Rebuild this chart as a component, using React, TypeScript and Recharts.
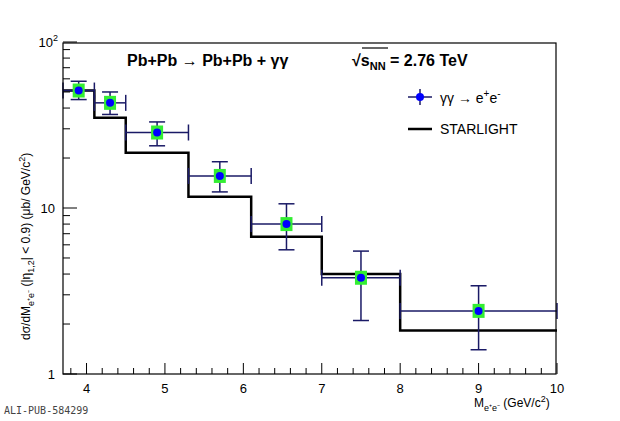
import React from "react";
import { ComposedChart, XAxis, YAxis, Line, Scatter, ErrorBar } from "recharts";

const massPoints = [3.9, 4.3, 4.9, 5.7, 6.55, 7.5, 9.0];
const crossSection = [51, 43, 28.5, 15.6, 8.0, 3.8, 2.4];
const yErrLow = [6, 6.4, 4.8, 3.1, 2.4, 1.7, 1.0];
const yErrHigh = [7, 7, 4.5, 3.4, 2.6, 1.7, 1.0];
const xErrLow = [0.2, 0.2, 0.4, 0.4, 0.45, 0.5, 1.0];
const xErrHigh = [0.2, 0.2, 0.4, 0.4, 0.45, 0.5, 1.0];
const starEdges = [3.7, 4.1, 4.5, 5.3, 6.1, 7.0, 8.0, 10.0];
const starValues = [51, 35, 21.5, 11.7, 6.7, 4.0, 1.83, 1.83];

const pointData = massPoints.map((m, i) => ({
  m,
  v: crossSection[i],
  ey: [yErrLow[i], yErrHigh[i]],
  ex: [xErrLow[i], xErrHigh[i]],
}));
const starData = starEdges.map((m, i) => ({ m, s: starValues[i] }));

const xTicks: number[] = [];
for (let i = 19; i <= 50; i += 1) xTicks.push(i / 5);
const yTicks: number[] = [];
for (let d = 1; d <= 10; d *= 10) for (let k = 1; k < 10; k++) yTicks.push(k * d);
yTicks.push(100);

const L = 63, R = 556, T = 43, B = 374;

const XTick = (p: any) => {
  const { x, payload } = p;
  const v = payload.value;
  const major = Math.abs(v - Math.round(v)) < 1e-6;
  const len = major ? 11 : 6;
  return (
    <g>
      <line x1={x} x2={x} y1={B} y2={B - len} stroke="#000" />
      {major && (
        <text x={x} y={393} textAnchor="middle" fontSize={13} fontFamily="Liberation Sans, Arial">
          {Math.round(v)}
        </text>
      )}
    </g>
  );
};

const YTick = (p: any) => {
  const { y, payload } = p;
  const v = payload.value;
  const major = v === 1 || v === 10 || v === 100;
  return (
    <g>
      <line x1={L} x2={L + (major ? 14 : 7)} y1={y} y2={y} stroke="#000" />
      {v === 1 && (
        <text x={55} y={y + 5} textAnchor="end" fontSize={13} fontFamily="Liberation Sans, Arial">1</text>
      )}
      {v === 10 && (
        <text x={55} y={y + 5} textAnchor="end" fontSize={13} fontFamily="Liberation Sans, Arial">10</text>
      )}
      {v === 100 && (
        <text x={58} y={y + 5} textAnchor="end" fontSize={13} fontFamily="Liberation Sans, Arial">
          10<tspan dy={-6} fontSize={9}>2</tspan>
        </text>
      )}
    </g>
  );
};

const PointShape = (p: any) => {
  const { cx, cy } = p;
  return (
    <g>
      <rect x={cx - 6} y={cy - 7} width={12} height={14} fill="#33ee33" />
      <circle cx={cx} cy={cy} r={4} fill="#0000ff" />
    </g>
  );
};

export default function App() {
  const font = "Liberation Sans, Arial, sans-serif";
  return (
    <div style={{ position: "absolute", left: 0, top: 0, width: 620, height: 421, background: "#fff" }}>
      <ComposedChart width={620} height={421} margin={{ left: L - 1, right: 620 - R - 1, top: T - 1, bottom: 421 - B - 1 }}>
        <XAxis
          xAxisId="b"
          dataKey="m"
          type="number"
          domain={[3.7, 10]}
          ticks={xTicks}
          tick={<XTick />}
          tickLine={false}
          axisLine={false}
          height={1}
          allowDataOverflow
          interval={0}
        />
        <YAxis
          yAxisId="l"
          type="number"
          scale="log"
          domain={[1, 100]}
          ticks={yTicks}
          tick={<YTick />}
          tickLine={false}
          axisLine={false}
          width={1}
          allowDataOverflow
          interval={0}
        />
        <Line
          xAxisId="b"
          yAxisId="l"
          data={starData}
          dataKey="s"
          type="stepAfter"
          stroke="#000"
          strokeWidth={2.5}
          dot={false}
          isAnimationActive={false}
        />
        <Scatter xAxisId="b" yAxisId="l" data={pointData} dataKey="v" shape={<PointShape />} isAnimationActive={false}>
          <ErrorBar dataKey="ey" direction="y" stroke="#1a1a66" strokeWidth={1.5} width={8} />
          <ErrorBar dataKey="ex" direction="x" stroke="#1a1a66" strokeWidth={1.5} width={8} />
        </Scatter>
      </ComposedChart>
      <svg width={620} height={421} style={{ position: "absolute", left: 0, top: 0, pointerEvents: "none" }} fontFamily={font}>
        <rect x={L} y={T} width={R - L} height={B - T} fill="none" stroke="#000" strokeWidth={1.2} />
        <text x={127} y={66} fontSize={16} fontWeight="bold">Pb+Pb  → Pb+Pb +  γγ</text>
        <text x={352} y={66} fontSize={16} fontWeight="bold">
          √<tspan>s</tspan><tspan dy={4} fontSize={11}>NN</tspan><tspan dy={-4}> = 2.76 TeV</tspan>
        </text>
        <line x1={362} x2={388} y1={48} y2={48} stroke="#000" strokeWidth={1.2} />
        <line x1={408} x2={432} y1={97} y2={97} stroke="#1a1a66" strokeWidth={1.5} />
        <line x1={420} x2={420} y1={89} y2={105} stroke="#1a1a66" strokeWidth={1.5} />
        <circle cx={420} cy={97} r={4} fill="#0000ff" />
        <text x={440} y={103} fontSize={14}>γγ → e<tspan dy={-6} fontSize={10}>+</tspan><tspan dy={6}>e</tspan><tspan dy={-6} fontSize={10}>-</tspan></text>
        <line x1={408} x2={432} y1={129} y2={129} stroke="#000" strokeWidth={2.5} />
        <text x={440} y={134} fontSize={14}>STARLIGHT</text>
        <text x={474} y={407} fontSize={12}>
          M<tspan dy={4} fontSize={9}>e⁺e⁻</tspan><tspan dy={-4}> (GeV/c</tspan><tspan dy={-5} fontSize={9}>2</tspan><tspan dy={5}>)</tspan>
        </text>
        <text transform="translate(30,340) rotate(-90)" fontSize={12}>
          dσ/dM<tspan dy={4} fontSize={9}>e⁺e⁻</tspan><tspan dy={-4}>  (|η</tspan><tspan dy={4} fontSize={9}>1,2</tspan><tspan dy={-4}>| &lt; 0.9)    (μb/ GeV/c</tspan><tspan dy={-5} fontSize={9}>2</tspan><tspan dy={5}>)</tspan>
        </text>
        <text x={4} y={414} fontSize={10} fontFamily="DejaVu Sans Mono, monospace" fill="#444">ALI-PUB-584299</text>
      </svg>
    </div>
  );
}
